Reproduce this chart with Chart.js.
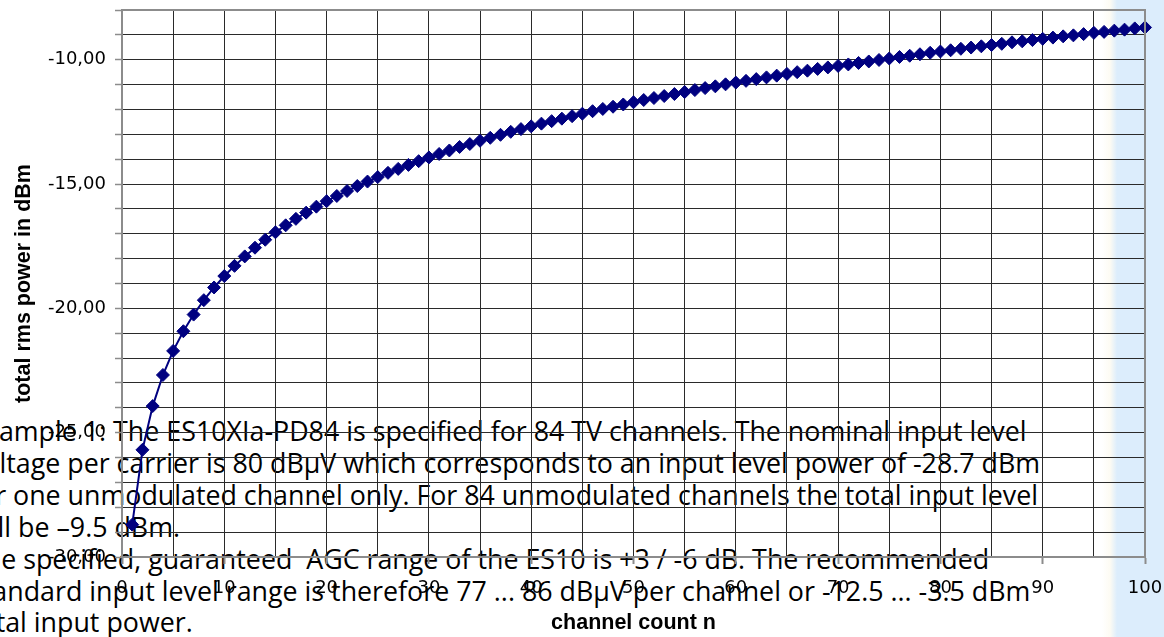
<!DOCTYPE html>
<html>
<head>
<meta charset="utf-8">
<script src="https://cdn.jsdelivr.net/npm/chart.js@4/dist/chart.umd.min.js"></script>
<style>
  html, body { margin: 0; padding: 0; }
  body {
    width: 1164px; height: 637px; overflow: hidden; position: relative;
    background: linear-gradient(to right, #ffffff 0px, #ffffff 1102px, #fdfbf3 1110px, #dcedfc 1117px, #dcedfc 1164px);
  }
  #notes {
    position: absolute; left: -30px; top: 0; width: 1200px;
    font-family: "Open Sans", sans-serif; font-size: 26.8px; color: #000;
    white-space: nowrap; z-index: 1;
  }
  #notes div { position: absolute; left: 0; line-height: 32px; }
  #wrap { position: absolute; left: 0; top: 0; width: 1164px; height: 637px; z-index: 2; }
  canvas { display: block; }
</style>
</head>
<body>
<div id="notes">
  <div style="top:415px">Example 1: The ES10XIa-PD84 is specified for 84 TV channels. The nominal input level</div>
  <div style="top:447px">voltage per carrier is 80 dBµV which corresponds to an input level power of -28.7 dBm</div>
  <div style="top:479px">for one unmodulated channel only. For 84 unmodulated channels the total input level</div>
  <div style="top:511px">will be –9.5 dBm.</div>
  <div style="top:543px">The specified, guaranteed&nbsp; AGC range of the ES10 is +3 / -6 dB. The recommended</div>
  <div style="top:575px">standard input level range is therefore 77 ... 86 dBµV per channel or -12.5 ... -3.5 dBm</div>
  <div style="top:606px">total input power.</div>
</div>
<div id="wrap"><canvas id="c" width="1164" height="637"></canvas></div>
<script>
// ---- data ----
const channels = [
  1,2,3,4,5,6,7,8,9,10,11,12,13,14,15,16,17,18,19,20,
  21,22,23,24,25,26,27,28,29,30,31,32,33,34,35,36,37,38,39,40,
  41,42,43,44,45,46,47,48,49,50,51,52,53,54,55,56,57,58,59,60,
  61,62,63,64,65,66,67,68,69,70,71,72,73,74,75,76,77,78,79,80,
  81,82,83,84,85,86,87,88,89,90,91,92,93,94,95,96,97,98,99,100
];
const totalPowerDbm = [
  -28.70,-25.69,-23.93,-22.68,-21.71,-20.92,-20.25,-19.67,-19.16,-18.70,
  -18.29,-17.91,-17.56,-17.24,-16.94,-16.66,-16.40,-16.15,-15.91,-15.69,
  -15.48,-15.28,-15.08,-14.90,-14.72,-14.55,-14.39,-14.23,-14.08,-13.93,
  -13.79,-13.65,-13.51,-13.39,-13.26,-13.14,-13.02,-12.90,-12.79,-12.68,
  -12.57,-12.47,-12.37,-12.27,-12.17,-12.07,-11.98,-11.89,-11.80,-11.71,
  -11.62,-11.54,-11.46,-11.38,-11.30,-11.22,-11.14,-11.07,-10.99,-10.92,
  -10.85,-10.78,-10.71,-10.64,-10.57,-10.50,-10.44,-10.37,-10.31,-10.25,
  -10.19,-10.13,-10.07,-10.01,-9.95,-9.89,-9.84,-9.78,-9.72,-9.67,
  -9.62,-9.56,-9.51,-9.46,-9.41,-9.36,-9.30,-9.26,-9.21,-9.16,
  -9.11,-9.06,-9.02,-8.97,-8.92,-8.88,-8.83,-8.79,-8.74,-8.70
];
const xTickLabels = [0,10,20,30,40,50,60,70,80,90,100];
const yTickLabels = [-30,-25,-20,-15,-10];
const xAxisTitle = 'channel count n';
const yAxisTitle = 'total rms power in dBm';

const points = channels.map((n, i) => ({ x: n, y: totalPowerDbm[i] }));

const frame = {
  id: 'frame',
  afterDraw(chart) {
    const a = chart.chartArea, ctx = chart.ctx;
    ctx.save();
    ctx.strokeStyle = '#8c8c8c';
    ctx.lineWidth = 2;
    ctx.beginPath();
    ctx.moveTo(a.left, a.top); ctx.lineTo(a.right, a.top); ctx.lineTo(a.right, a.bottom);
    ctx.stroke();
    ctx.restore();
  }
};

const tickFont = { family: '"DejaVu Sans", "Liberation Sans", sans-serif', size: 18 };
const titleFont = { family: '"Liberation Sans", Arial, sans-serif', size: 21.5, weight: 'bold' };

new Chart(document.getElementById('c'), {
  type: 'scatter',
  data: {
    datasets: [{
      data: points,
      showLine: true,
      borderColor: '#000080',
      borderWidth: 2,
      backgroundColor: '#000080',
      pointStyle: 'rectRot',
      pointRadius: 6.5,
      pointBorderWidth: 1,
      pointBorderColor: '#000080',
      pointBackgroundColor: '#000080',
      pointHoverRadius: 6.5,
      clip: false,
      tension: 0
    }]
  },
  options: {
    responsive: false,
    animation: false,
    devicePixelRatio: 1,
    events: [],
    layout: { padding: { top: 10, right: 19, left: 0, bottom: 0 } },
    plugins: { legend: { display: false }, tooltip: { enabled: false } },
    scales: {
      x: {
        type: 'linear', min: 0, max: 100,
        afterFit(s) { s.height = 80; s.paddingLeft = 0; s.paddingRight = 0; },
        ticks: {
          stepSize: 5, autoSkip: false, maxRotation: 0, padding: 14,
          color: '#000', font: tickFont,
          callback: v => xTickLabels.includes(v) ? String(v) : ''
        },
        grid: {
          color: '#2a2a2a', lineWidth: 1, tickLength: 7,
          tickColor: c => (c.tick && xTickLabels.includes(c.tick.value)) ? '#8c8c8c' : 'rgba(0,0,0,0)',
          tickWidth: 2
        },
        border: { color: '#8c8c8c', width: 2 },
        title: { display: true, text: xAxisTitle, color: '#000', font: titleFont, padding: { top: 0, bottom: 1 } }
      },
      y: {
        type: 'linear', min: -30, max: -8,
        afterFit(s) { s.width = 122; s.paddingTop = 0; s.paddingBottom = 0; },
        ticks: {
          stepSize: 1, autoSkip: false, padding: 9,
          color: '#000', font: tickFont,
          callback: v => yTickLabels.includes(v) ? v.toFixed(2).replace('.', ',') : ''
        },
        grid: { color: '#2a2a2a', lineWidth: 1, tickLength: 7, tickColor: '#8c8c8c', tickWidth: 1.5 },
        border: { color: '#8c8c8c', width: 2 },
        title: { display: true, text: yAxisTitle, color: '#000', font: titleFont, padding: { top: 11, bottom: 0 } }
      }
    }
  },
  plugins: [frame]
});
</script>
</body>
</html>
